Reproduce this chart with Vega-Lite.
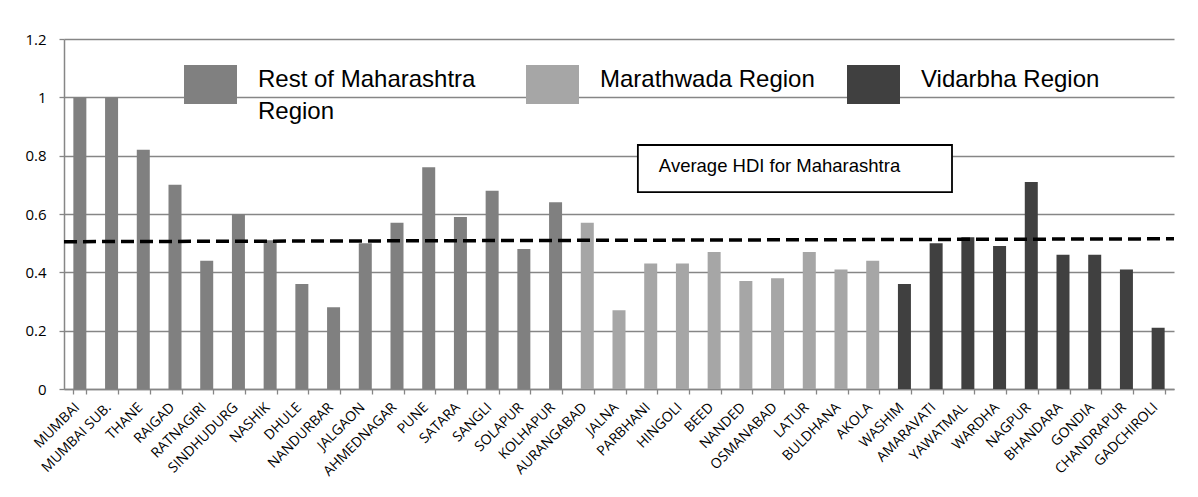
{
  "$schema": "https://vega.github.io/schema/vega-lite/v6.json",
  "width": 1110,
  "height": 350,
  "autosize": {"type": "none"},
  "padding": {"left": 64, "top": 39, "right": 24, "bottom": 108},
  "background": "white",
  "config": {"view": {"stroke": null}, "font": "Liberation Sans"},
  "datasets": {
    "districts": [
      {"district": "MUMBAI", "region": "Rest of Maharashtra Region", "hdi": 1.0},
      {"district": "MUMBAI SUB.", "region": "Rest of Maharashtra Region", "hdi": 1.0},
      {"district": "THANE", "region": "Rest of Maharashtra Region", "hdi": 0.82},
      {"district": "RAIGAD", "region": "Rest of Maharashtra Region", "hdi": 0.70},
      {"district": "RATNAGIRI", "region": "Rest of Maharashtra Region", "hdi": 0.44},
      {"district": "SINDHUDURG", "region": "Rest of Maharashtra Region", "hdi": 0.60},
      {"district": "NASHIK", "region": "Rest of Maharashtra Region", "hdi": 0.51},
      {"district": "DHULE", "region": "Rest of Maharashtra Region", "hdi": 0.36},
      {"district": "NANDURBAR", "region": "Rest of Maharashtra Region", "hdi": 0.28},
      {"district": "JALGAON", "region": "Rest of Maharashtra Region", "hdi": 0.50},
      {"district": "AHMEDNAGAR", "region": "Rest of Maharashtra Region", "hdi": 0.57},
      {"district": "PUNE", "region": "Rest of Maharashtra Region", "hdi": 0.76},
      {"district": "SATARA", "region": "Rest of Maharashtra Region", "hdi": 0.59},
      {"district": "SANGLI", "region": "Rest of Maharashtra Region", "hdi": 0.68},
      {"district": "SOLAPUR", "region": "Rest of Maharashtra Region", "hdi": 0.48},
      {"district": "KOLHAPUR", "region": "Rest of Maharashtra Region", "hdi": 0.64},
      {"district": "AURANGABAD", "region": "Marathwada Region", "hdi": 0.57},
      {"district": "JALNA", "region": "Marathwada Region", "hdi": 0.27},
      {"district": "PARBHANI", "region": "Marathwada Region", "hdi": 0.43},
      {"district": "HINGOLI", "region": "Marathwada Region", "hdi": 0.43},
      {"district": "BEED", "region": "Marathwada Region", "hdi": 0.47},
      {"district": "NANDED", "region": "Marathwada Region", "hdi": 0.37},
      {"district": "OSMANABAD", "region": "Marathwada Region", "hdi": 0.38},
      {"district": "LATUR", "region": "Marathwada Region", "hdi": 0.47},
      {"district": "BULDHANA", "region": "Marathwada Region", "hdi": 0.41},
      {"district": "AKOLA", "region": "Marathwada Region", "hdi": 0.44},
      {"district": "WASHIM", "region": "Vidarbha Region", "hdi": 0.36},
      {"district": "AMARAVATI", "region": "Vidarbha Region", "hdi": 0.50},
      {"district": "YAWATMAL", "region": "Vidarbha Region", "hdi": 0.52},
      {"district": "WARDHA", "region": "Vidarbha Region", "hdi": 0.49},
      {"district": "NAGPUR", "region": "Vidarbha Region", "hdi": 0.71},
      {"district": "BHANDARA", "region": "Vidarbha Region", "hdi": 0.46},
      {"district": "GONDIA", "region": "Vidarbha Region", "hdi": 0.46},
      {"district": "CHANDRAPUR", "region": "Vidarbha Region", "hdi": 0.41},
      {"district": "GADCHIROLI", "region": "Vidarbha Region", "hdi": 0.21}
    ],
    "average": [
      {"pos": 0, "hdi": 0.505},
      {"pos": 1, "hdi": 0.515}
    ],
    "note": [
      {"x1": 0.517, "x2": 0.800, "y1": 0.675, "y2": 0.8366, "ty": 0.7646, "label": "Average HDI for Maharashtra"}
    ]
  },
  "layer": [
    {
      "data": {"name": "districts"},
      "mark": {"type": "bar"},
      "encoding": {
        "x": {
          "field": "district", "type": "nominal", "sort": null,
          "scale": {"paddingInner": 0.59, "paddingOuter": 0.295},
          "axis": {
            "title": null, "labelAngle": -45, "labelAlign": "right", "labelBaseline": "middle",
            "labelFont": "Open Sans", "labelFontSize": 14, "labelColor": "#000000",
            "tickBand": "extent", "tickSize": 5, "tickColor": "#868686", "tickWidth": 1.3,
            "domainColor": "#868686", "domainWidth": 1.5, "labelPadding": 11, "labelOffset": -3
          }
        },
        "y": {
          "field": "hdi", "type": "quantitative",
          "scale": {"domain": [0, 1.2], "nice": false},
          "axis": {
            "title": null, "values": [0, 0.2, 0.4, 0.6, 0.8, 1, 1.2], "format": ".1~f",
            "labelFont": "Open Sans", "labelFontSize": 15, "labelColor": "#000000",
            "grid": true, "gridColor": "#868686", "gridWidth": 1.3,
            "domainColor": "#868686", "domainWidth": 1.5,
            "tickColor": "#868686", "tickSize": 5, "tickWidth": 1.3, "labelPadding": 13
          }
        },
        "color": {
          "field": "region", "type": "nominal",
          "scale": {
            "domain": ["Rest of Maharashtra Region", "Marathwada Region", "Vidarbha Region"],
            "range": ["#808080", "#a6a6a6", "#404040"]
          },
          "legend": {
            "title": null, "orient": "none", "legendX": 120, "legendY": 19,
            "direction": "horizontal", "padding": 0,
            "symbolType": "M-1,-0.736L1,-0.736L1,0.736L-1,0.736Z", "symbolSize": 2809,
            "symbolStrokeWidth": 0,
            "labelFont": "Liberation Sans", "labelFontSize": 24, "labelColor": "#000000",
            "labelOffset": 21, "columnPadding": 32, "labelLimit": 500,
            "labelBaseline": "alphabetic",
            "labelExpr": "datum.label == 'Rest of Maharashtra Region' ? ['Rest of Maharashtra\u2800', 'Region'] : [datum.label, ' ']",
            "encode": {
              "labels": {"update": {"lineHeight": {"value": 32}, "dy": {"value": 2.5}}},
              "symbols": {"update": {"fill": {"signal": "datum.value == 'Marathwada Region' ? '#bfbfbf' : datum.value == 'Vidarbha Region' ? '#404040' : '#808080'"}}}
            }
          }
        }
      }
    },
    {
      "layer": [
        {
          "data": {"name": "average"},
          "mark": {"type": "line", "color": "#000000", "strokeWidth": 3.5, "strokeDash": [13, 6]},
          "encoding": {
            "x": {"field": "pos", "type": "quantitative", "scale": {"domain": [0, 1], "nice": false}, "axis": null},
            "y": {"field": "hdi", "type": "quantitative", "scale": {"domain": [0, 1.2], "nice": false}}
          }
        },
        {
          "data": {"name": "note"},
          "mark": {"type": "rect", "fill": "#ffffff", "stroke": "#000000", "strokeWidth": 1.8},
          "encoding": {
            "x": {"field": "x1", "type": "quantitative", "scale": {"domain": [0, 1], "nice": false}, "axis": null},
            "x2": {"field": "x2"},
            "y": {"field": "y1", "type": "quantitative", "scale": {"domain": [0, 1.2], "nice": false}},
            "y2": {"field": "y2"}
          }
        },
        {
          "data": {"name": "note"},
          "mark": {"type": "text", "align": "left", "baseline": "middle", "dx": 21, "font": "Liberation Sans", "fontSize": 18.5, "color": "#000000"},
          "encoding": {
            "x": {"field": "x1", "type": "quantitative", "scale": {"domain": [0, 1], "nice": false}, "axis": null},
            "y": {"field": "ty", "type": "quantitative", "scale": {"domain": [0, 1.2], "nice": false}},
            "text": {"field": "label"}
          }
        }
      ]
    }
  ],
  "resolve": {"scale": {"x": "independent"}}
}
